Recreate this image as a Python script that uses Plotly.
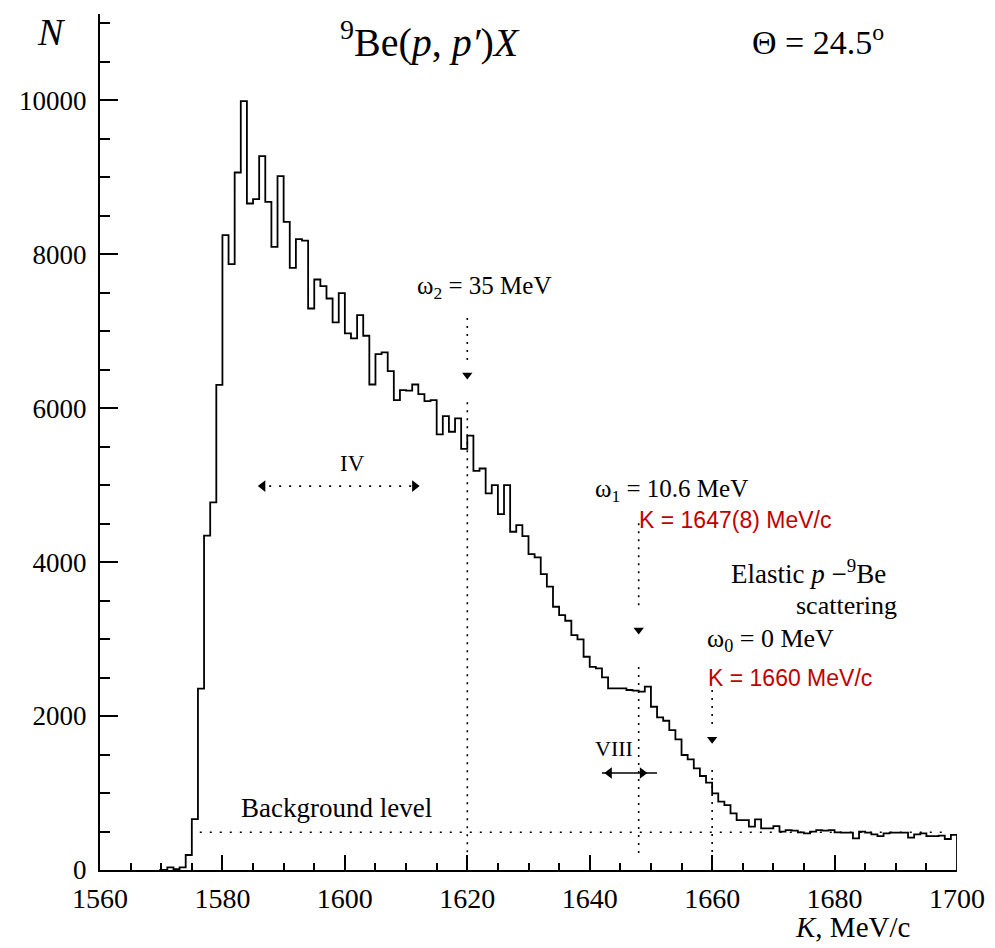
import plotly.graph_objects as go

# ---------------- data ----------------
bin_left = list(range(1570, 1700))  # 1 MeV/c bins, left edges
counts = [
    0, 35, 10, 35, 195, 660, 2355, 4345, 4776, 6302,            # 1570-1579
    8247, 7870, 9061, 9987, 8658, 8714, 9273, 8680, 8095, 9013,  # 1580-1589
    8420, 7822, 8195, 8177, 7294, 7671, 7584, 7424, 7115, 7495,  # 1590-1599
    6970, 6905, 7208, 6940, 6307, 6701, 6723, 6480, 6104, 6234,  # 1600-1609
    6228, 6307, 6182, 6091, 6104, 5658, 5896, 5693, 5866, 5470,  # 1610-1619
    5643, 5186, 5216, 4892, 5000, 4623, 5000, 4394, 4481, 4338,  # 1620-1629
    4104, 4061, 3844, 3680, 3420, 3312, 3238, 3052, 2996, 2770,  # 1630-1639
    2640, 2619, 2502, 2359, 2359, 2359, 2338, 2330, 2316, 2381,  # 1640-1649
    2121, 1983, 1939, 1818, 1697, 1494, 1437, 1320, 1221, 1134,  # 1650-1659
    996, 887, 844, 736, 649, 649, 563, 658, 541, 541,            # 1660-1669
    571, 498, 519, 511, 489, 476, 498, 519, 511, 519,            # 1670-1679
    489, 485, 485, 411, 498, 485, 463, 441, 476, 485,            # 1680-1689
    485, 485, 420, 463, 476, 441, 441, 446, 403, 455,            # 1690-1699
]
x_ticks = [1560, 1580, 1600, 1620, 1640, 1660, 1680, 1700]
y_ticks = [0, 2000, 4000, 6000, 8000, 10000]

background_level = 490
omega_K = [1620, 1648, 1660]          # marked momenta
region_IV = [1586, 1612]
region_VIII = [1642, 1651]

XR = [1560, 1700]
YR = [0, 11120]

SERIF = "Liberation Serif, Times New Roman, serif"
SANS = "Liberation Sans, Arial, sans-serif"
RED = "#c00000"

fig = go.Figure()

# histogram as a step line
hx = [1569.7] + bin_left + [1700, 1700]
hy = [0] + counts + [counts[-1], 0]
fig.add_trace(go.Scatter(x=hx, y=hy, mode="lines", line=dict(color="black", width=1.8, shape="hv"),
                         hoverinfo="skip", showlegend=False))

vdot = dict(color="black", width=1.6, dash="2px,6px")
hdot = dict(color="black", width=1.6, dash="2px,8px")

# background level
fig.add_trace(go.Scatter(x=[1576.3, 1698], y=[background_level] * 2, mode="lines", line=hdot,
                         hoverinfo="skip", showlegend=False))

# vertical dotted markers with arrowheads: (K, top, gap start, arrow y, resume)
segs = [
    (omega_K[0], 7170, 6585, 6430, 6078),
    (omega_K[1], 4506, 3377, 3117, 2636),
    (omega_K[2], 2338, 1857, 1700, 1299),
]
for k, top, mid, arr, res in segs:
    fig.add_trace(go.Scatter(x=[k, k, None, k, k], y=[top, mid, None, res, 200], mode="lines", line=vdot,
                             hoverinfo="skip", showlegend=False))
    fig.add_trace(go.Scatter(x=[k], y=[arr], mode="markers",
                             marker=dict(symbol="triangle-down", size=9, color="black"),
                             hoverinfo="skip", showlegend=False))

# region IV double arrow (dotted)
fig.add_trace(go.Scatter(x=region_IV, y=[4987, 4987], mode="lines", line=hdot, hoverinfo="skip", showlegend=False))
fig.add_trace(go.Scatter(x=[region_IV[0] + 0.6, region_IV[1] - 0.6], y=[4987, 4987], mode="markers",
                         marker=dict(symbol=["triangle-left", "triangle-right"], size=10, color="black"),
                         hoverinfo="skip", showlegend=False))
# region VIII double arrow (solid)
fig.add_trace(go.Scatter(x=region_VIII, y=[1260, 1260], mode="lines", line=dict(color="black", width=1.6),
                         hoverinfo="skip", showlegend=False))
fig.add_trace(go.Scatter(x=[1643.2, 1648.6], y=[1260, 1260], mode="markers",
                         marker=dict(symbol=["triangle-left", "triangle-right"], size=10, color="black"),
                         hoverinfo="skip", showlegend=False))

def txt(x, y, s, size, font=SERIF, color="black", xanchor="center"):
    # positions given in data units, placed through paper coordinates so that
    # labels outside the axis ranges are drawn too
    px = (x - XR[0]) / (XR[1] - XR[0])
    py = (y - YR[0]) / (YR[1] - YR[0])
    fig.add_annotation(x=px, y=py, xref="paper", yref="paper", text=s, showarrow=False,
                       font=dict(family=font, size=size, color=color), xanchor=xanchor, yanchor="middle")

txt(1552, 10890, "<i>N</i>", 38)
txt(1613.9, 10790, "<sup>9</sup>Be(<i>p</i>, <i>p′</i>)<i>X</i>", 40)
txt(1677.3, 10782, "Θ = 24.5<sup>o</sup>", 34)
txt(1622.7, 7573, "ω<sub>2</sub> = 35 MeV", 25)
txt(1653.4, 4933, "ω<sub>1</sub> = 10.6 MeV", 25)
txt(1663.7, 4544, "K = 1647(8) MeV/c", 23, SANS, RED)
txt(1675.7, 3869, "Elastic <i>p</i> −<sup>9</sup>Be", 27)
txt(1681.9, 3440, "scattering", 26)
txt(1669.5, 2986, "ω<sub>0</sub> = 0 MeV", 26)
txt(1672.7, 2493, "K = 1660 MeV/c", 23, SANS, RED)
txt(1601.2, 5284, "IV", 23)
txt(1644.0, 1584, "VIII", 22)
txt(1598.6, 805, "Background level", 27)
txt(1682.9, -740, "<i>K</i>, MeV/c", 29)

# page body has an 8px margin, so the figure is 8px smaller than the window
fig.update_layout(
    width=987, height=940,
    margin=dict(l=92, r=38, t=6, b=78, autoexpand=False),
    paper_bgcolor="white", plot_bgcolor="white",
    showlegend=False,
)
fig.update_xaxes(
    range=XR, tickvals=x_ticks, ticktext=[str(v) for v in x_ticks],
    ticks="inside", ticklen=15, tickwidth=1.5, tickcolor="black",
    minor=dict(dtick=5, tick0=1560, ticks="inside", ticklen=7, tickwidth=1.5, tickcolor="black", showgrid=False),
    showline=True, linecolor="black", linewidth=2, mirror=False, showgrid=False, zeroline=False,
    tickfont=dict(family=SERIF, size=28, color="black"), ticklabelstandoff=2,
)
fig.update_yaxes(
    range=YR, tickvals=y_ticks, ticktext=[str(v) for v in y_ticks],
    ticks="inside", ticklen=18, tickwidth=1.5, tickcolor="black",
    minor=dict(dtick=500, tick0=0, ticks="inside", ticklen=10, tickwidth=1.5, tickcolor="black", showgrid=False),
    showline=True, linecolor="black", linewidth=2, mirror=False, showgrid=False, zeroline=False,
    tickfont=dict(family=SERIF, size=27, color="black"), ticklabelstandoff=6,
)

fig.write_html("out.html")
